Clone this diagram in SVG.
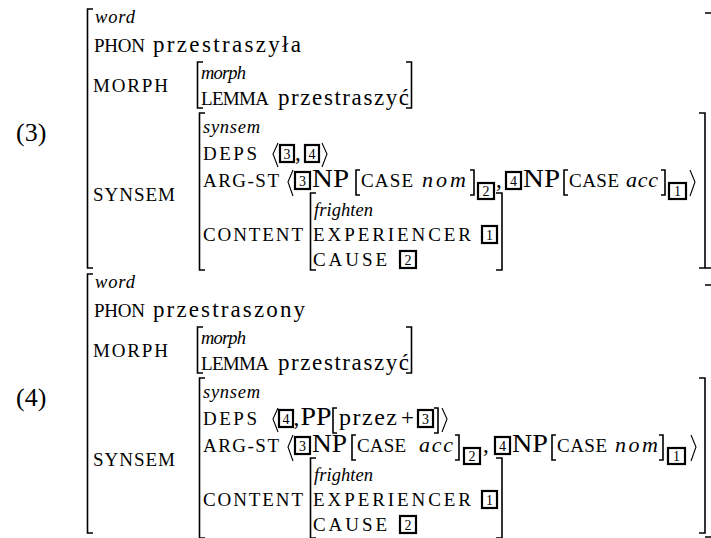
<svg xmlns="http://www.w3.org/2000/svg" width="711" height="538" viewBox="0 0 711 538">
<style>
text{fill:#000}
.rm{font-family:"Liberation Serif",serif;font-size:23px}
.sc{font-family:"Liberation Serif",serif;font-size:19px}
.it{font-family:"Liberation Serif",serif;font-style:italic;font-size:18.5px}
.iv{font-family:"Liberation Serif",serif;font-style:italic;font-size:22px}
.tg{font-family:"Liberation Serif",serif;font-size:14px;text-anchor:middle}
.br{fill:none;stroke:#000;stroke-width:1.6}
.ang{fill:none;stroke:#000;stroke-width:1.1}
.box{fill:none;stroke:#000;stroke-width:2.2}
</style>
<rect width="711" height="538" fill="#fff"/>
<g id="avm3">
<text class="rm" x="16" y="141" style="font-size:26px">(3)</text>
<path class="br" d="M93,9 H87.5 V268 H93"/>
<path class="br" d="M705,13 H712 V268 H705"/>
<text class="it" x="95" y="23" textLength="40">word</text>
<text class="sc" x="94" y="52" textLength="51">PHON</text>
<text class="rm" x="153" y="52" textLength="148">przestraszyła</text>
<text class="sc" x="93" y="92" textLength="75">MORPH</text>
<g id="morph3">
<path class="br" d="M203,62 H197.5 V108 H203"/>
<path class="br" d="M406,62 H411.5 V108 H406"/>
<text class="it" x="201" y="79" textLength="45">morph</text>
<text class="sc" x="201" y="105" textLength="68">LEMMA</text>
<text class="rm" x="278" y="105" textLength="131">przestraszyć</text>
</g>
<text class="sc" x="93" y="201" textLength="82">SYNSEM</text>
<g id="synsem3">
<path class="br" d="M205,113 H199.5 V270 H205"/>
<path class="br" d="M699,113 H705 V268 H699"/>
<text class="it" x="203" y="133" textLength="57">synsem</text>
<text class="sc" x="203" y="160" textLength="54">DEPS</text>
<path class="ang" d="M278,143 L273,154 L278,167"/>
<rect class="box" x="280" y="145" width="14" height="17"/><text class="tg" x="287" y="159">3</text>
<text class="rm" x="295" y="160">,</text>
<rect class="box" x="305" y="145" width="14" height="17"/><text class="tg" x="312" y="159">4</text>
<path class="ang" d="M322,143 L327,154 L322,167"/>
<text class="sc" x="203" y="187" textLength="76">ARG-ST</text>
<path class="ang" d="M293,170 L288,182 L293,196"/>
<rect class="box" x="295" y="172" width="15" height="17"/><text class="tg" x="302.5" y="186">3</text>
<text class="rm" x="312" y="187" style="font-size:25px" textLength="37" lengthAdjust="spacingAndGlyphs">NP</text>
<path class="br" d="M360,170 H356 V195 H360"/>
<text class="sc" x="361" y="187" textLength="52">CASE</text>
<text class="iv" x="422" y="187" textLength="44">nom</text>
<path class="br" d="M470,170 H474 V195 H470"/>
<rect class="box" x="478" y="183" width="16" height="16"/><text class="tg" x="486" y="196">2</text>
<text class="rm" x="496" y="187">,</text>
<rect class="box" x="506" y="172" width="15" height="17"/><text class="tg" x="513.5" y="186">4</text>
<text class="rm" x="523" y="187" style="font-size:25px" textLength="37" lengthAdjust="spacingAndGlyphs">NP</text>
<path class="br" d="M568,170 H564 V195 H568"/>
<text class="sc" x="569" y="187" textLength="50">CASE</text>
<text class="iv" x="626" y="187" textLength="32">acc</text>
<path class="br" d="M661,170 H665 V195 H661"/>
<rect class="box" x="669" y="183" width="17" height="16"/><text class="tg" x="677.5" y="196">1</text>
<path class="ang" d="M690,170 L695,182 L690,196"/>
<text class="sc" x="203" y="241" textLength="100">CONTENT</text>
<g id="content3">
<path class="br" d="M316,193 H310.5 V270 H316"/>
<path class="br" d="M496,193 H502 V270 H496"/>
<text class="it" x="314" y="216" textLength="59">frighten</text>
<text class="sc" x="313" y="241" textLength="158">EXPERIENCER</text>
<rect class="box" x="482" y="226" width="15" height="17"/><text class="tg" x="489.5" y="240">1</text>
<text class="sc" x="313" y="266" textLength="74">CAUSE</text>
<rect class="box" x="400" y="251" width="16" height="17"/><text class="tg" x="408" y="265">2</text>
</g>
</g>
</g>
<g id="avm4">
<text class="rm" x="16" y="406" style="font-size:26px">(4)</text>
<path class="br" d="M93,274 H87.5 V533 H93"/>
<path class="br" d="M705,285 H712 V537 H705"/>
<text class="it" x="95" y="288" textLength="40">word</text>
<text class="sc" x="94" y="317" textLength="51">PHON</text>
<text class="rm" x="153" y="317" textLength="152">przestraszony</text>
<text class="sc" x="93" y="357" textLength="75">MORPH</text>
<g id="morph4">
<path class="br" d="M203,327 H197.5 V373 H203"/>
<path class="br" d="M406,327 H411.5 V373 H406"/>
<text class="it" x="201" y="344" textLength="45">morph</text>
<text class="sc" x="201" y="370" textLength="68">LEMMA</text>
<text class="rm" x="278" y="370" textLength="131">przestraszyć</text>
</g>
<text class="sc" x="93" y="466" textLength="82">SYNSEM</text>
<g id="synsem4">
<path class="br" d="M205,378 H199.5 V538 H205"/>
<path class="br" d="M699,378 H705 V533 H699"/>
<text class="it" x="203" y="398" textLength="57">synsem</text>
<text class="sc" x="203" y="425" textLength="54">DEPS</text>
<path class="ang" d="M278,408 L273,419 L278,432"/>
<rect class="box" x="279" y="410" width="14" height="17"/><text class="tg" x="286" y="424">4</text>
<text class="rm" x="293.5" y="425">,</text>
<text class="rm" x="300.5" y="425" style="font-size:25px" textLength="31" lengthAdjust="spacingAndGlyphs">PP</text>
<path class="br" d="M337,408 H333 V433 H337"/>
<text class="rm" x="339" y="425" style="font-size:24px" textLength="58">przez</text>
<text class="rm" x="401" y="425">+</text>
<rect class="box" x="418" y="410" width="15" height="17"/><text class="tg" x="425.5" y="424">3</text>
<path class="br" d="M434,408 H438 V433 H434"/>
<path class="ang" d="M442,408 L447,419 L442,432"/>
<text class="sc" x="203" y="452" textLength="76">ARG-ST</text>
<path class="ang" d="M293,435 L288,447 L293,461"/>
<rect class="box" x="295" y="437" width="15" height="17"/><text class="tg" x="302.5" y="451">3</text>
<text class="rm" x="312" y="452" style="font-size:25px" textLength="35" lengthAdjust="spacingAndGlyphs">NP</text>
<path class="br" d="M356,435 H352 V460 H356"/>
<text class="sc" x="357" y="452" textLength="49">CASE</text>
<text class="iv" x="419" y="452" textLength="34">acc</text>
<path class="br" d="M455,435 H459 V460 H455"/>
<rect class="box" x="464" y="448" width="16" height="16"/><text class="tg" x="472" y="461">2</text>
<text class="rm" x="483" y="452">,</text>
<rect class="box" x="495" y="437" width="15" height="17"/><text class="tg" x="502.5" y="451">4</text>
<text class="rm" x="512" y="452" style="font-size:25px" textLength="36" lengthAdjust="spacingAndGlyphs">NP</text>
<path class="br" d="M556,435 H552 V460 H556"/>
<text class="sc" x="557" y="452" textLength="50">CASE</text>
<text class="iv" x="615" y="452" textLength="43">nom</text>
<path class="br" d="M659,435 H663 V460 H659"/>
<rect class="box" x="668" y="448" width="17" height="16"/><text class="tg" x="676.5" y="461">1</text>
<path class="ang" d="M691,435 L696,447 L691,461"/>
<text class="sc" x="203" y="506" textLength="100">CONTENT</text>
<g id="content4">
<path class="br" d="M316,458 H310.5 V538 H316"/>
<path class="br" d="M496,458 H502 V538 H496"/>
<text class="it" x="314" y="481" textLength="59">frighten</text>
<text class="sc" x="313" y="506" textLength="158">EXPERIENCER</text>
<rect class="box" x="482" y="491" width="15" height="17"/><text class="tg" x="489.5" y="505">1</text>
<text class="sc" x="313" y="531" textLength="74">CAUSE</text>
<rect class="box" x="400" y="516" width="16" height="17"/><text class="tg" x="408" y="530">2</text>
</g>
</g>
</g>
<g id="connectors"></g>
</svg>
